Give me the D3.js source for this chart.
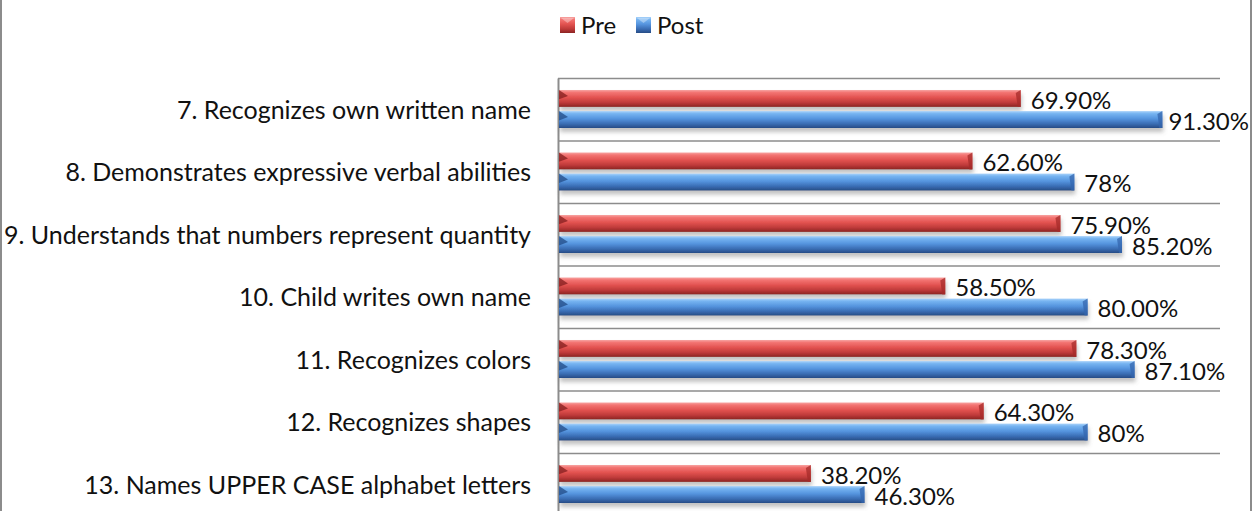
<!DOCTYPE html>
<html>
<head>
<meta charset="utf-8">
<script src="https://cdn.jsdelivr.net/npm/d3@7"></script>
<style>
  body { margin: 0; background: #fff; }
  svg { display: block; font-family: Lato, "Noto Sans", sans-serif; }
</style>
</head>
<body>
<div class="chart"></div>
<script>
// chart data
const categories = [
  '7. Recognizes own written name',
  '8. Demonstrates expressive verbal abilities',
  '9. Understands that numbers represent quantity',
  '10. Child writes own name',
  '11. Recognizes colors',
  '12. Recognizes shapes',
  '13. Names UPPER CASE alphabet letters'
];
const seriesNames = ['Pre', 'Post'];
const preValues = [69.9, 62.6, 75.9, 58.5, 78.3, 64.3, 38.2];
const postValues = [91.3, 78, 85.2, 80, 87.1, 80, 46.3];
const preLabels = ['69.90%', '62.60%', '75.90%', '58.50%', '78.30%', '64.30%', '38.20%'];
const postLabels = ['91.30%', '78%', '85.20%', '80.00%', '87.10%', '80%', '46.30%'];

const width = 1253;
const height = 511;

const svg = d3.select('.chart')
  .append('svg')
  .attr('width', width)
  .attr('height', height);

const defs = svg.append('defs');

// cylinder-ish gradients for the 3D bars
function gradient(id, stops) {
  const g = defs.append('linearGradient')
    .attr('id', id)
    .attr('x1', 0).attr('y1', 0).attr('x2', 0).attr('y2', 1);
  stops.forEach(function(s) {
    g.append('stop').attr('offset', s[0]).attr('stop-color', s[1]);
  });
}
gradient('g-pre', [[0, '#f7a5a3'], [0.15, '#f37472'], [0.45, '#e25250'], [0.75, '#be3a39'], [1, '#8b2423']]);
gradient('g-post', [[0, '#a9d2fa'], [0.15, '#76b4f1'], [0.45, '#5594de'], [0.75, '#3a6db4'], [1, '#264c85']]);

const shadow = defs.append('filter').attr('id', 'shadow')
  .attr('x', '-5%').attr('y', '-50%').attr('width', '110%').attr('height', '220%');
shadow.append('feDropShadow')
  .attr('dx', 1).attr('dy', 4).attr('stdDeviation', 2)
  .attr('flood-color', '#777').attr('flood-opacity', 0.45);

// frame
svg.append('line').attr('x1', 1).attr('x2', 1).attr('y1', 0).attr('y2', height)
  .attr('stroke', '#8c8c8c').attr('stroke-width', 2);
svg.append('line').attr('x1', 1251).attr('x2', 1251).attr('y1', 0).attr('y2', height)
  .attr('stroke', '#8c8c8c').attr('stroke-width', 2);

const x = d3.scaleLinear().domain([0, 100]).range([558, 1220]);
const y = d3.scaleBand().domain(categories).range([78, 78 + 62.5 * categories.length]);
const sub = d3.scaleBand().domain(seriesNames).range([12, 50]).paddingInner(0.2);

// gridlines at category boundaries
svg.append('g').selectAll('line')
  .data(categories)
  .enter()
  .append('line')
  .attr('x1', x(0))
  .attr('x2', x(100))
  .attr('y1', function(d) { return y(d) + 0.5; })
  .attr('y2', function(d) { return y(d) + 0.5; })
  .attr('stroke', '#8c8c8c')
  .attr('stroke-width', 1.5);

// category axis
const yAxis = svg.append('g')
  .attr('transform', 'translate(' + x(0) + ',0)')
  .call(d3.axisLeft(y).tickSize(0).tickPadding(27));
yAxis.select('.domain').attr('stroke', '#8c8c8c').attr('stroke-width', 2);
yAxis.selectAll('text')
  .attr('font-size', '25px')
  .attr('font-family', 'Lato, "Noto Sans", sans-serif')
  .attr('fill', '#111')
  .attr('dy', '0.38em');

// rows of bars
const rows = categories.map(function(c, i) {
  return [
    { cat: c, key: 'Pre', value: preValues[i], label: preLabels[i], fill: 'url(#g-pre)', cap: '#a52b2a', tri: '#8a2222' },
    { cat: c, key: 'Post', value: postValues[i], label: postLabels[i], fill: 'url(#g-post)', cap: '#3466ad', tri: '#26508c' }
  ];
}).flat();

const bars = svg.append('g').selectAll('g.bar')
  .data(rows)
  .enter()
  .append('g')
  .attr('class', 'bar')
  .attr('transform', function(d) { return 'translate(0,' + (y(d.cat) + sub(d.key)) + ')'; });

const bh = sub.bandwidth();

bars.append('rect')
  .attr('x', x(0) + 1)
  .attr('y', 0)
  .attr('width', function(d) { return x(d.value) - x(0) - 1; })
  .attr('height', bh)
  .attr('fill', function(d) { return d.fill; })
  .attr('filter', 'url(#shadow)');

// darker bevelled cap at the end of each bar
bars.append('path')
  .attr('d', function(d) {
    const e = x(d.value);
    return 'M' + (e - 5) + ',3 L' + e + ',0 L' + e + ',' + bh + ' L' + (e - 3) + ',' + bh + ' Z';
  })
  .attr('fill', function(d) { return d.cap; })
  .attr('opacity', 0.75);

// dark wedge on the upper left end
bars.append('path')
  .attr('d', function() {
    const s = x(0) + 1;
    return 'M' + s + ',0 L' + (s + 9) + ',' + (bh * 0.35) + ' L' + s + ',' + (bh * 0.55) + ' Z';
  })
  .attr('fill', function(d) { return d.tri; })
  .attr('opacity', 0.8);

// value labels
bars.append('text')
  .attr('font-size', '24px')
  .attr('fill', '#111')
  .attr('y', bh / 2)
  .attr('dy', '0.42em')
  .text(function(d) { return d.label; })
  .attr('x', function(d) {
    const w = this.getComputedTextLength();
    return Math.min(x(d.value) + 10, 1249 - w);
  });

// legend
const legend = svg.append('g').selectAll('g')
  .data([
    { name: 'Pre', fill: 'url(#g-pre)', x: 560 },
    { name: 'Post', fill: 'url(#g-post)', x: 636 }
  ])
  .enter()
  .append('g')
  .attr('transform', function(d) { return 'translate(' + d.x + ',17)'; });

legend.append('rect')
  .attr('width', 15)
  .attr('height', 16)
  .attr('fill', function(d) { return d.fill; });
legend.append('path')
  .attr('d', 'M1,1 L7.5,6 L14,1 Z')
  .attr('fill', '#fff')
  .attr('opacity', 0.35);
legend.append('text')
  .attr('x', 21)
  .attr('y', 8)
  .attr('dy', '0.38em')
  .attr('font-size', '24px')
  .attr('fill', '#111')
  .text(function(d) { return d.name; });
</script>
</body>
</html>
